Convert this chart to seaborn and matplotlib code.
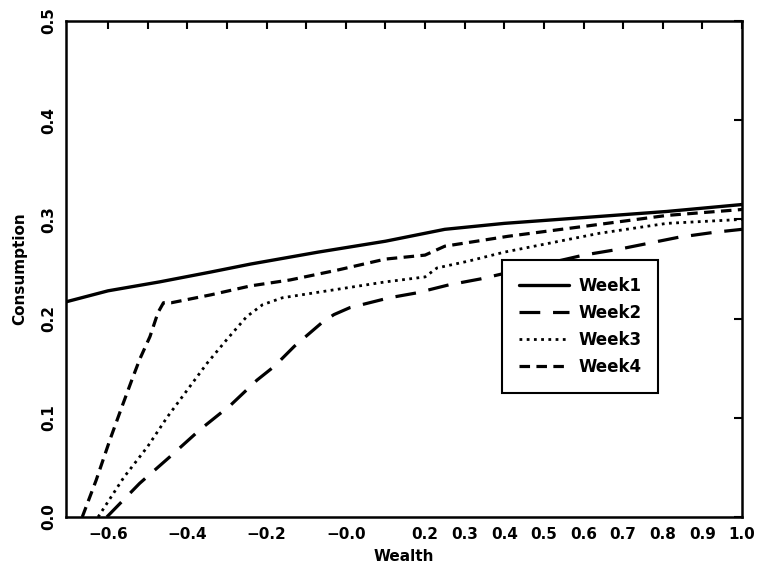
import matplotlib
matplotlib.use("Agg")
import matplotlib.pyplot as plt
import seaborn as sns
import pandas as pd

# values
week1_x = [-0.705, -0.60, -0.47, -0.34, -0.24, -0.07, 0.10, 0.25, 0.40, 0.64, 0.81, 1.00]
week1_y = [0.217, 0.228, 0.237, 0.247, 0.255, 0.267, 0.278, 0.290, 0.296, 0.303, 0.308, 0.315]

week2_x = [-0.603, -0.52, -0.443, -0.368, -0.29, -0.224, -0.18, -0.13, -0.06, -0.03, 0.01,
           0.11, 0.18, 0.26, 0.34, 0.60, 0.69, 0.84, 0.93, 1.00]
week2_y = [0.0, 0.034, 0.061, 0.088, 0.113, 0.138, 0.152, 0.172, 0.196, 0.204, 0.211,
           0.221, 0.226, 0.234, 0.240, 0.264, 0.270, 0.282, 0.287, 0.290]

week3_x = [-0.625, -0.56, -0.50, -0.45, -0.40, -0.35, -0.30, -0.25, -0.21, -0.16, -0.03,
           0.10, 0.20, 0.23, 0.31, 0.40, 0.64, 0.81, 1.00]
week3_y = [0.0, 0.040, 0.071, 0.101, 0.128, 0.155, 0.179, 0.202, 0.214, 0.221, 0.229,
           0.237, 0.242, 0.251, 0.258, 0.267, 0.286, 0.296, 0.300]

week4_x = [-0.665, -0.63, -0.595, -0.565, -0.54, -0.52, -0.494, -0.474, -0.46, -0.44, -0.34,
           -0.24, -0.14, -0.02, 0.10, 0.20, 0.25, 0.33, 0.41, 0.64, 0.81, 1.00]
week4_y = [0.0, 0.037, 0.078, 0.111, 0.138, 0.159, 0.182, 0.206, 0.216, 0.216, 0.224,
           0.233, 0.239, 0.249, 0.260, 0.264, 0.273, 0.278, 0.283, 0.295, 0.304, 0.310]

labels = ["Week1", "Week2", "Week3", "Week4"]
xs = [week1_x, week2_x, week3_x, week4_x]
ys = [week1_y, week2_y, week3_y, week4_y]

x_ticks = [-0.6, -0.5, -0.4, -0.3, -0.2, -0.1, 0.0, 0.1, 0.2, 0.3, 0.4, 0.5, 0.6, 0.7, 0.8, 0.9, 1.0]
x_ticklabels = ["\u22120.6", "", "\u22120.4", "", "\u22120.2", "", "\u22120.0", "",
                "0.2", "0.3", "0.4", "0.5", "0.6", "0.7", "0.8", "0.9", "1.0"]
y_ticks = [0.0, 0.1, 0.2, 0.3, 0.4, 0.5]
y_ticklabels = ["0.0", "0.1", "0.2", "0.3", "0.4", "0.5"]

sns.set_style("white")
plt.rcParams["font.family"] = ["DejaVu Sans"]
plt.rcParams["font.weight"] = "bold"
for k in ["text.color", "axes.labelcolor", "xtick.color", "ytick.color"]:
    plt.rcParams[k] = "black"

styles = [
    dict(ls="-", lw=2.4),
    dict(ls=(0, (6.5, 4)), lw=2.3),
    dict(ls=(0, (1, 1.6)), lw=2.0),
    dict(ls=(0, (3.3, 2)), lw=2.3),
]

fig = plt.figure(figsize=(7.57, 5.74), dpi=100)
ax = fig.add_axes([0.0872, 0.0993, 0.8930, 0.8641])

for lab, x, y, st in zip(labels, xs, ys, styles):
    df = pd.DataFrame({"Wealth": x, "Consumption": y})
    sns.lineplot(data=df, x="Wealth", y="Consumption", ax=ax, color="black",
                 estimator=None, sort=False, label=lab, **st)

ax.set_xlim(-0.706, 1.0)
ax.set_ylim(0.0, 0.5)
ax.set_xticks(x_ticks)
ax.set_xticklabels(x_ticklabels)
ax.set_yticks(y_ticks)
ax.set_yticklabels(y_ticklabels, rotation=90, va="center")

ax.tick_params(direction="in", length=6, width=1.5, top=True, right=True,
               labelsize=11, pad=7)
for s in ax.spines.values():
    s.set_linewidth(1.8)
    s.set_color("black")

ax.set_xlabel("Wealth", fontsize=11, fontweight="bold", labelpad=5)
ax.set_ylabel("Consumption", fontsize=11, fontweight="bold", labelpad=10)

leg = ax.legend(loc="upper left", bbox_to_anchor=(0.645, 0.518), fontsize=12,
                handlelength=3.0, handletextpad=0.6, frameon=True, fancybox=False,
                borderpad=1.0, labelspacing=0.55, borderaxespad=0, framealpha=1)
leg.get_frame().set_edgecolor("black")
leg.get_frame().set_linewidth(1.5)
for t in leg.get_texts():
    t.set_fontweight("bold")
    t.set_color("black")

fig.savefig("out.png", dpi=100)
